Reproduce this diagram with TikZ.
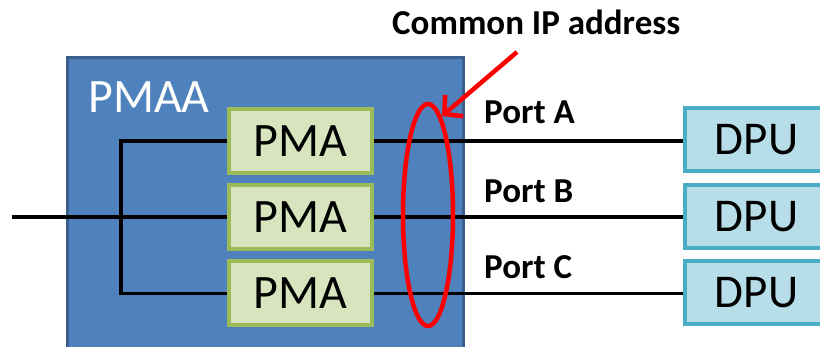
\documentclass[tikz,border=0pt]{standalone}
\usepackage{fontspec}
\setmainfont{Carlito}
\usetikzlibrary{shapes.geometric, arrows.meta}
\definecolor{pmaafill}{HTML}{4F81BD}
\definecolor{pmaaline}{HTML}{3A5F8C}
\definecolor{pmafill}{HTML}{D7E4BD}
\definecolor{pmaline}{HTML}{9BBB59}
\definecolor{dpufill}{HTML}{B7DEE8}
\definecolor{dpuline}{HTML}{4BACC6}
\tikzstyle{pma} = [draw=pmaline, fill=pmafill, line width=4, minimum width=143, minimum height=64, inner sep=0, font=\fontsize{48}{52}\selectfont]
\tikzstyle{dpu} = [draw=dpuline, fill=dpufill, line width=4, minimum width=143, minimum height=63, inner sep=0, font=\fontsize{47}{52}\selectfont]
\tikzstyle{wire} = [line width=3.6]
\tikzstyle{port} = [anchor=base west, inner sep=0, font=\fontsize{35}{38}\selectfont\bfseries]
\tikzstyle{pointer} = [red, line width=4.5, -{Straight Barb[length=13pt,width=28pt]}]

\begin{document}
\begin{tikzpicture}[x=1pt, y=-1pt]
        \useasboundingbox (0,0) rectangle (820,347);
        %pmaa
        \draw[fill=pmaafill, draw=pmaaline, line width=3.5] (67.5,57.5) rectangle (463.5,360);
        \node[anchor=base west, inner sep=0, text=white, font=\fontsize{48}{52}\selectfont] (pmaa) at (88,113) {PMAA};
        \node[pma] (pmaA) at (300.5,141) {PMA};
        \node[pma] (pmaB) at (300.5,217) {PMA};
        \node[pma] (pmaC) at (300.5,293.5) {PMA};
        \node[dpu] (dpuA) at (756.5,140) {DPU};
        \node[dpu] (dpuB) at (756.5,216.5) {DPU};
        \node[dpu] (dpuC) at (756.5,293) {DPU};
        %wires
        \coordinate (feed) at (12,217);
        \draw[wire] (feed) -- (pmaB.west);
        \draw[wire] (pmaA.west) -- ++(-106,0) |- (pmaC.west);
        \draw[wire] (pmaA.east) -- (pmaA.east -| dpuA.west);
        \draw[wire] (pmaB.east) -- (pmaB.east -| dpuB.west);
        \draw[wire] (pmaC.east) -- (pmaC.east -| dpuC.west);
        \node[port] (portA) at (484,124) {Port A};
        \node[port] (portB) at (484,203) {Port B};
        \node[port] (portC) at (484,279) {Port C};
        %common ip
        \node[ellipse, draw=red, line width=4.5, minimum width=50, minimum height=222] (ring) at (428,215) {};
        \node[port] (common) at (392,35) {Common IP address};
        \coordinate (tail) at (517,52);
        \coordinate (tip) at (442,116);
        \draw[pointer] (tail) -- (tip);
    \end{tikzpicture}
\end{document}
